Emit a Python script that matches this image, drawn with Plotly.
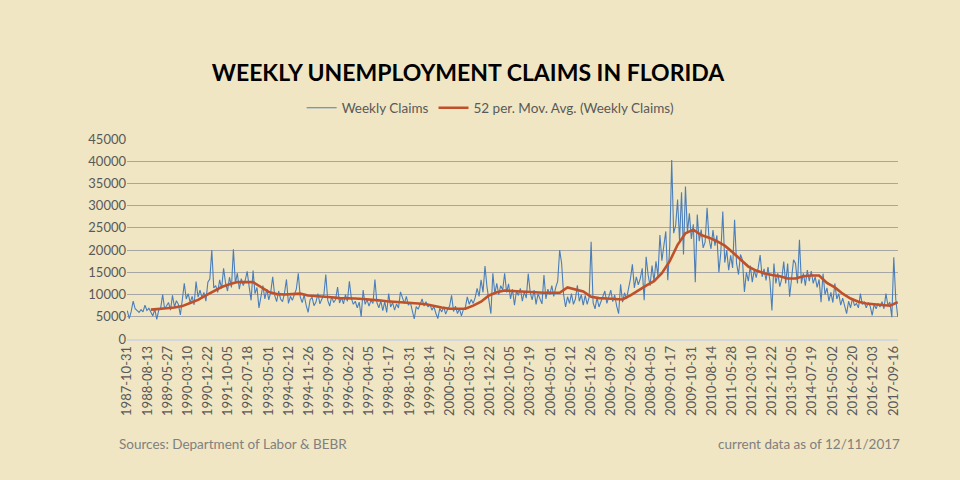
import pandas as pd
import plotly.graph_objects as go

# weekly initial claims, every 4th week starting 1987-10-31
start_date = "1987-10-31"
weekly_claims = [
    6400, 4600, 6200, 8500, 6800, 6300, 6000, 6600, 6100, 7600,
    6400, 6900, 6200, 5200, 6700, 4400, 6500, 7000, 10000, 6800,
    7500, 8200, 6500, 9800, 7200, 8600, 7800, 5400, 8800, 12500,
    9000, 10200, 8200, 9600, 7700, 12900, 9400, 11000, 9300, 10500,
    8500, 12800, 13500, 20000, 11500, 12000, 10500, 13300, 11400, 15900,
    12600, 10800, 13900, 11600, 20200, 12500, 14800, 11200, 13600, 12000,
    13200, 15200, 11800, 8700, 15400, 10200, 11600, 7000, 9500, 12000,
    9000, 11200, 8800, 10600, 14000, 9800, 8400, 10800, 9000, 8400,
    10400, 13400, 8000, 9600, 8700, 10000, 11200, 14800, 9500, 8200,
    9900, 7600, 6000, 8800, 9400, 7500, 8300, 10200, 7900, 9000,
    9800, 14500, 8700, 7400, 9600, 8200, 8900, 11700, 8100, 9300,
    7900, 10000, 8500, 13000, 9200, 7800, 8500, 7000, 8300, 5000,
    11000, 7800, 8800, 7400, 8700, 8000, 13400, 8200, 7000, 8600,
    6400, 8400, 6000, 10200, 7200, 8200, 6500, 7900, 7000, 10600,
    9000, 8000, 9600, 7600, 8300, 6500, 4500, 7300, 6700, 7800,
    9000, 7400, 8400, 7200, 7800, 6500, 7300, 5800, 4600, 6900,
    6100, 7200, 5600, 6700, 7400, 9800, 6200, 7400, 5700, 6800,
    5200, 6600, 7100, 9500, 7800, 8900, 8000, 9300, 11400, 9600,
    13300, 10500, 16400, 11800, 9000, 5700, 14800, 10200, 12500, 10000,
    12000, 11000, 14800, 10500, 12400, 9000, 11200, 7600, 10800, 9800,
    11400, 8500, 10600, 9200, 14700, 10500, 8800, 11000, 7800, 10200,
    9000, 7900, 14400, 9000, 11200, 10000, 12000, 9600, 11600, 13000,
    20000, 17000, 10000, 7200, 9500, 8000, 10200, 7800, 9000, 12100,
    8500, 10000, 7600, 9800, 7800, 9400, 21900, 8200, 6800, 9300,
    7200, 8500, 9500, 10800, 8000, 9600, 11000, 8400, 9900, 7400,
    5700, 12300, 8300, 10400, 9000, 11300, 13500, 16800, 11500, 14000,
    12200, 13600, 15900, 8700, 18500, 14400, 12000, 16500, 13000, 17500,
    14200, 23400, 17600, 21000, 24200, 13200, 20800, 40300, 23800, 25500,
    31400, 22000, 33000, 19000, 34300, 24000, 28300, 22500, 25800, 12800,
    28000, 22000, 24600, 20500, 21800, 29500, 22500, 20300, 24500, 21000,
    23300, 15000, 19500, 28700, 17200, 20000, 15500, 18800, 16000, 26800,
    17000, 14500, 19000, 17800, 10600, 15000, 13000, 16500, 12800, 15500,
    13800, 16000, 18900, 14000, 15800, 13200, 16200, 13000, 6400, 17000,
    12500, 14800, 11800, 13500, 17400, 12500, 17000, 9500, 14000, 17800,
    17000, 12500, 22300, 12500, 14800, 12000, 15500, 13000, 15300, 12500,
    14000, 11600, 13400, 8300, 14700, 10000, 11500, 8500, 10500, 8200,
    12500, 9000, 10200, 7600, 9200, 7500, 5700, 8500, 7000, 9200,
    7500, 8000, 7000, 10200, 7800, 8300, 7000, 8200, 7400, 5300,
    7800, 6800, 8000, 7200, 8400, 6800, 10200, 7600, 8300, 4900,
    18400, 9000, 5000,
]

# 52-week moving average, read every 16th week starting 48 weeks in
ma_start_offset_weeks = 48
moving_avg = [
    6600, 6700, 6900, 7100, 7400, 8100, 8800, 9800, 10800, 11700,
    12300, 12800, 12800, 12800, 11700, 10600, 10100, 10000, 10100, 10200,
    9800, 9700, 9500, 9400, 9200, 9200, 9100, 9000, 8900, 8700,
    8500, 8400, 8200, 8100, 8000, 7800, 7400, 7100, 6800, 6800,
    6800, 7500, 8400, 9800, 10500, 10900, 10800, 10600, 10600, 10500,
    10400, 10400, 10400, 11600, 11200, 10700, 9500, 9200, 9100, 9000,
    8900, 9800, 11000, 12000, 13000, 14800, 17500, 21200, 23800, 24600,
    23400, 22800, 22000, 21000, 19500, 17800, 16300, 15400, 14800, 14400,
    14100, 13600, 13600, 14100, 14300, 14300, 12600, 11600, 10200, 9100,
    8400, 8000, 7800, 7600, 7500, 8300,
]

tick_labels = [
    "1987-10-31", "1988-08-13", "1989-05-27", "1990-03-10", "1990-12-22",
    "1991-10-05", "1992-07-18", "1993-05-01", "1994-02-12", "1994-11-26",
    "1995-09-09", "1996-06-22", "1997-04-05", "1998-01-17", "1998-10-31",
    "1999-08-14", "2000-05-27", "2001-03-10", "2001-12-22", "2002-10-05",
    "2003-07-19", "2004-05-01", "2005-02-12", "2005-11-26", "2006-09-09",
    "2007-06-23", "2008-04-05", "2009-01-17", "2009-10-31", "2010-08-14",
    "2011-05-28", "2012-03-10", "2012-12-22", "2013-10-05", "2014-07-19",
    "2015-05-02", "2016-02-20", "2016-12-03", "2017-09-16",
]

start = pd.Timestamp(start_date)
claim_dates = pd.date_range(start, periods=len(weekly_claims), freq="28D")
ma_dates = pd.date_range(start + pd.Timedelta(weeks=ma_start_offset_weeks),
                         periods=len(moving_avg), freq="112D")

bg = "#F0E6C3"
grey = "#595959"
font = "Lato"

fig = go.Figure()
fig.add_trace(go.Scatter(x=claim_dates, y=weekly_claims, mode="lines",
                         name="Weekly Claims",
                         line=dict(color="#4A7EBB", width=1.1)))
fig.add_trace(go.Scatter(x=ma_dates, y=moving_avg, mode="lines",
                         name="52 per. Mov. Avg. (Weekly Claims)",
                         line=dict(color="#C0502A", width=2.6)))

x_lo = start - pd.Timedelta(days=4)
x_hi = claim_dates[-1] + pd.Timedelta(days=4)

fig.update_layout(
    width=960, height=480,
    paper_bgcolor=bg, plot_bgcolor=bg,
    margin=dict(l=127, r=62, t=139, b=141),
    font=dict(family=font, size=13, color=grey),
    title=dict(text="<b>WEEKLY UNEMPLOYMENT CLAIMS IN FLORIDA</b>",
               x=0.4875, xanchor="center", y=0.848, yanchor="middle",
               font=dict(family=font, size=23, color="black")),
    legend=dict(orientation="h", x=0.471, xanchor="center",
                y=1.155, yanchor="middle", bgcolor="rgba(0,0,0,0)",
                font=dict(size=13.5, color=grey)),
    showlegend=True,
)
fig.update_xaxes(range=[x_lo, x_hi], tickvals=tick_labels, ticktext=tick_labels,
                 tickangle=-90, showgrid=False, zeroline=False,
                 showline=True, linecolor="#D3D7DC", linewidth=1.5,
                 ticks="", tickfont=dict(size=13, color=grey))
fig.update_yaxes(range=[0, 45000], dtick=5000, showgrid=True,
                 gridcolor="#A6A6A6", gridwidth=1, zeroline=False,
                 showline=False, ticks="", tickformat="d",
                 tickfont=dict(size=13, color=grey))

fig.add_annotation(text="Sources: Department of Labor & BEBR",
                   xref="paper", yref="paper", x=-0.013, y=-0.524,
                   xanchor="left", yanchor="middle", showarrow=False,
                   font=dict(size=13.5, color="#808080"))
fig.add_annotation(text="current data as of 12/11/2017",
                   xref="paper", yref="paper", x=1.005, y=-0.524,
                   xanchor="right", yanchor="middle", showarrow=False,
                   font=dict(size=13.5, color="#808080"))

# page body has a default 8px margin; drop it so the figure fills the window
fig.write_html("out.html", config={"displayModeBar": False},
               post_script="document.body.style.margin='0';")
